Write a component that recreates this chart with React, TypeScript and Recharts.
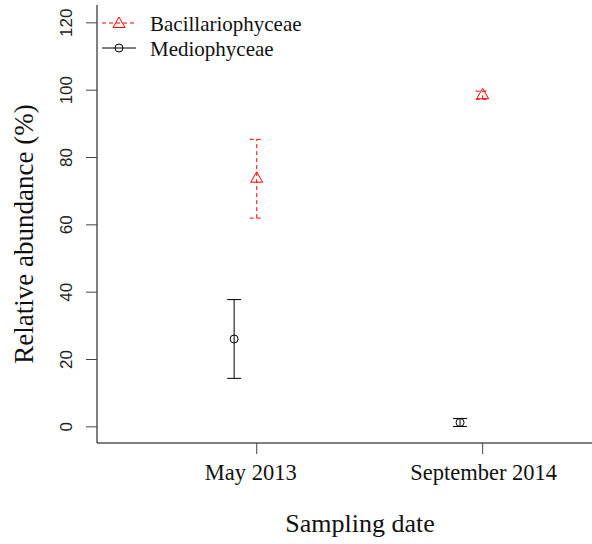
import { ErrorBar, Label, Scatter, ScatterChart, XAxis, YAxis } from 'recharts';

// sampling dates (x positions on a numeric axis)
const dates = ['May 2013', 'September 2014'];
const datePositions = [1, 2];

// Bacillariophyceae: mean relative abundance and error
const bacillarioX = [1, 2];
const bacillarioMean = [73.7, 98.5];
const bacillarioErr = [11.7, 1.2];

// Mediophyceae, drawn slightly left of each date
const medioX = [0.9, 1.9];
const medioMean = [26.1, 1.3];
const medioErr = [11.7, 1.2];

const yTicks = [0, 20, 40, 60, 80, 100, 120];

const serif = '"Liberation Serif", "Times New Roman", serif';
const sans = '"Liberation Sans", Arial, sans-serif';
const RED = '#ff0000';

const bacillarioData = bacillarioX.map((x, i) => ({
  x,
  y: bacillarioMean[i],
  err: bacillarioErr[i],
}));
const medioData = medioX.map((x, i) => ({
  x,
  y: medioMean[i],
  err: medioErr[i],
}));

const Triangle = ({ cx, cy, color }: { cx: number; cy: number; color: string }) => (
  <polygon
    points={`${cx},${cy - 6.9} ${cx + 6},${cy + 3.5} ${cx - 6},${cy + 3.5}`}
    fill="none"
    stroke={color}
    strokeWidth={1}
  />
);

const Circle = ({ cx, cy }: { cx: number; cy: number }) => (
  <circle cx={cx} cy={cy} r={4} fill="none" stroke="#000" strokeWidth={1} />
);

const YTick = (props: any) => {
  const { y, payload } = props;
  return (
    <text
      x={72}
      y={y}
      transform={`rotate(-90 72 ${y})`}
      textAnchor="middle"
      fontFamily={sans}
      fontSize={17}
      fill="#222"
    >
      {payload.value}
    </text>
  );
};

const XTick = (props: any) => {
  const { x, payload } = props;
  const idx = datePositions.indexOf(payload.value);
  // the first label sits a little left of its tick in the original
  const dx = idx === 0 ? -6 : 1;
  return (
    <text x={x + dx} y={480} textAnchor="middle" fontFamily={serif} fontSize={22.5} fill="#111">
      {idx >= 0 ? dates[idx] : ''}
    </text>
  );
};

const LegendBox = () => (
  <svg
    width={260}
    height={64}
    style={{ position: 'absolute', left: 97, top: 0, pointerEvents: 'none' }}
  >
    <line x1={5} x2={39} y1={23} y2={23} stroke={RED} strokeDasharray="4 3" />
    <Triangle cx={22} cy={24} color={RED} />
    <text x={53} y={31} fontFamily={serif} fontSize={21} fill="#111">
      Bacillariophyceae
    </text>
    <line x1={5} x2={39} y1={48} y2={48} stroke="#000" />
    <Circle cx={22} cy={48} />
    <text x={53} y={56} fontFamily={serif} fontSize={21} fill="#111">
      Mediophyceae
    </text>
  </svg>
);

export default function App() {
  return (
    <div style={{ position: 'absolute', left: 0, top: 0, width: 592, height: 544, background: '#fff' }}>
      <ScatterChart width={592} height={544} margin={{ top: 5, right: 0, bottom: 0, left: 0 }}>
        <XAxis
          type="number"
          dataKey="x"
          domain={[0.293, 2.484]}
          allowDataOverflow
          ticks={datePositions}
          height={101}
          tickSize={11}
          axisLine={{ stroke: '#000' }}
          tickLine={{ stroke: '#444' }}
          tick={<XTick />}
        >
          <Label
            content={() => (
              <text x={360} y={532} textAnchor="middle" fontFamily={serif} fontSize={26} fill="#111">
                Sampling date
              </text>
            )}
          />
        </XAxis>
        <YAxis
          type="number"
          dataKey="y"
          domain={[-4.8, 125.3]}
          allowDataOverflow
          ticks={yTicks}
          width={97}
          tickSize={11}
          axisLine={{ stroke: '#000' }}
          tickLine={{ stroke: '#444' }}
          tick={<YTick />}
        >
          <Label
            content={() => (
              <text
                x={33}
                y={234}
                transform="rotate(-90 33 234)"
                textAnchor="middle"
                fontFamily={serif}
                fontSize={27}
                fill="#111"
              >
                Relative abundance (%)
              </text>
            )}
          />
        </YAxis>
        <Scatter
          name="Bacillariophyceae"
          data={bacillarioData}
          isAnimationActive={false}
          shape={(p: any) => <Triangle cx={p.cx} cy={p.cy} color={RED} />}
        >
          <ErrorBar
            dataKey="err"
            direction="y"
            width={7}
            stroke={RED}
            strokeWidth={1}
            strokeDasharray="4 3"
            isAnimationActive={false}
          />
        </Scatter>
        <Scatter
          name="Mediophyceae"
          data={medioData}
          isAnimationActive={false}
          shape={(p: any) => <Circle cx={p.cx} cy={p.cy} />}
        >
          <ErrorBar
            dataKey="err"
            direction="y"
            width={7}
            stroke="#000"
            strokeWidth={1}
            isAnimationActive={false}
          />
        </Scatter>
      </ScatterChart>
      <LegendBox />
    </div>
  );
}
